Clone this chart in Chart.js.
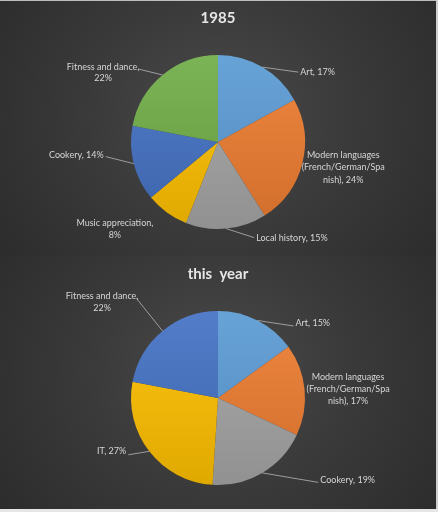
<!DOCTYPE html>
<html>
<head>
<meta charset="utf-8">
<script src="https://cdn.jsdelivr.net/npm/chart.js@4/dist/chart.umd.min.js"></script>
<style>
    html, body { margin: 0; padding: 0; }
    body { width: 438px; height: 512px; overflow: hidden; position: relative; background: #2a2a2a; }
    .panel { position: absolute; left: 0; width: 438px; height: 256px;
        background: radial-gradient(ellipse 75% 115% at 50% 45%, #4a4a4a 0%, #3a3a3a 40%, #262626 100%); }
    #topPanel { top: 0; }
    #bottomPanel { top: 256px; }
    .edge { position: absolute; background: #d4d4d4; }
</style>
</head>
<body>
<div class="panel" id="topPanel"><canvas id="chart1985" width="438" height="256"></canvas></div>
<div class="panel" id="bottomPanel"><canvas id="chartNow" width="438" height="256"></canvas></div>
<div class="edge" style="left:0;top:0;width:438px;height:1px;background:#bdbdbd"></div>
<div class="edge" style="right:0;top:0;width:2px;height:512px;background:#cfcfcf"></div>
<div class="edge" style="left:0;bottom:0;width:438px;height:3px;background:#e6e6e6"></div>

<script>
// 1985 chart
const categories1985 = ['Art', 'Modern languages (French/German/Spanish)', 'Local history', 'Music appreciation', 'Cookery', 'Fitness and dance'];
const values1985 = [17, 24, 15, 8, 14, 22];
const colors1985 = ['#5b9bd5', '#ed7d31', '#a5a5a5', '#ffc000', '#4472c4', '#70ad47'];

// this year chart
const categoriesNow = ['Art', 'Modern languages (French/German/Spanish)', 'Cookery', 'IT', 'Fitness and dance'];
const valuesNow = [15, 17, 19, 27, 22];
const colorsNow = ['#5b9bd5', '#ed7d31', '#a5a5a5', '#ffc000', '#4472c4'];

const LABEL_FONT = '9px Lato';
const LABEL_COLOR = '#d6d6d6';

function shade(hex, amt) {
    const n = parseInt(hex.slice(1), 16);
    let r = n >> 16, g = (n >> 8) & 255, b = n & 255;
    const t = amt < 0 ? 0 : 255, p = Math.abs(amt);
    r = Math.round(r + (t - r) * p);
    g = Math.round(g + (t - g) * p);
    b = Math.round(b + (t - b) * p);
    return `rgb(${r},${g},${b})`;
}

function sliceFill(colors) {
    return function (ctx) {
        const c = colors[ctx.dataIndex];
        const area = ctx.chart.chartArea;
        if (!area) return c;
        const g = ctx.chart.ctx.createLinearGradient(0, area.top, 0, area.bottom);
        g.addColorStop(0, shade(c, 0.08));
        g.addColorStop(1, shade(c, -0.12));
        return g;
    };
}

function wrapText(ctx, text, maxW) {
    const words = text.split(' ');
    const lines = [];
    let cur = '';
    for (const w of words) {
        const test = cur ? cur + ' ' + w : w;
        if (ctx.measureText(test).width <= maxW) { cur = test; continue; }
        if (cur) lines.push(cur);
        cur = w;
        while (ctx.measureText(cur).width > maxW) {
            let i = cur.length;
            while (i > 1 && ctx.measureText(cur.slice(0, i)).width > maxW) i--;
            lines.push(cur.slice(0, i));
            cur = cur.slice(i);
        }
    }
    if (cur) lines.push(cur);
    return lines;
}

// data labels with leader lines, placed relative to each slice's outer midpoint
const leaderLabels = {
    id: 'leaderLabels',
    afterDatasetsDraw(chart, args, opts) {
        const ctx = chart.ctx;
        const meta = chart.getDatasetMeta(0);
        const values = chart.data.datasets[0].data;
        const total = values.reduce((a, b) => a + b, 0);
        ctx.save();
        ctx.font = LABEL_FONT;
        ctx.fillStyle = LABEL_COLOR;
        ctx.strokeStyle = '#a8a8a8';
        ctx.lineWidth = 0.9;
        ctx.textBaseline = 'middle';
        meta.data.forEach(function (arc, i) {
            const p = arc.getProps(['x', 'y', 'startAngle', 'endAngle', 'outerRadius'], true);
            const mid = (p.startAngle + p.endAngle) / 2;
            const ax = p.x + Math.cos(mid) * p.outerRadius;
            const ay = p.y + Math.sin(mid) * p.outerRadius;
            const place = opts.place[i];
            const text = chart.data.labels[i] + ', ' + Math.round(values[i] / total * 100) + '%';
            const lines = wrapText(ctx, text, place.width || 300);
            if (place.line) {
                ctx.beginPath();
                ctx.moveTo(ax, ay);
                ctx.lineTo(ax + place.line[0], ay + place.line[1]);
                ctx.stroke();
            }
            ctx.textAlign = place.align;
            const lh = place.lh || 11.5;
            const tx = ax + place.text[0];
            const y0 = ay + place.text[1] - (lines.length - 1) * lh / 2;
            lines.forEach(function (l, k) { ctx.fillText(l, tx, y0 + k * lh); });
        });
        ctx.restore();
    }
};

function makePie(canvasId, title, categories, values, colors, place) {
    return new Chart(document.getElementById(canvasId), {
        type: 'pie',
        data: {
            labels: categories,
            datasets: [{
                data: values,
                backgroundColor: sliceFill(colors),
                borderWidth: 0,
                hoverOffset: 0,
                offset: 0
            }]
        },
        options: {
            responsive: false,
            animation: false,
            events: [],
            layout: { padding: { top: 0, bottom: 27, left: 0, right: 2 } },
            plugins: {
                legend: { display: false },
                tooltip: { enabled: false },
                title: {
                    display: true,
                    text: title,
                    color: '#e6e6e6',
                    font: { family: 'Lato', size: 15, weight: 'bold' },
                    padding: { top: 9, bottom: 28 }
                },
                leaderLabels: { place: place }
            }
        },
        plugins: [leaderLabels]
    });
}

makePie('chart1985', '1985', categories1985, values1985, colors1985, [
    { line: [36, 5], text: [38, 5], align: 'left' },
    { line: null, text: [41, 3.5], align: 'center', width: 84, lh: 12.5 },
    { line: [28, 9], text: [30, 9], align: 'left' },
    { line: null, text: [-52, 16.5], align: 'center', width: 80 },
    { line: [-28, -7], text: [-30, -9], align: 'right' },
    { line: [-24.5, -6], text: [-59.5, -2.5], align: 'center', width: 80 }
]);

makePie('chartNow', 'this  year', categoriesNow, valuesNow, colorsNow, [
    { line: [36, 5.5], text: [38, 3], align: 'left' },
    { line: null, text: [43.5, -0.5], align: 'center', width: 84, lh: 12 },
    { line: [56, 9.5], text: [58, 7], align: 'left' },
    { line: [-21, 3.5], text: [-23, 0], align: 'right' },
    { line: [-26, -32.5], text: [-60.5, -29], align: 'center', width: 80 }
]);
</script>
</body>
</html>
